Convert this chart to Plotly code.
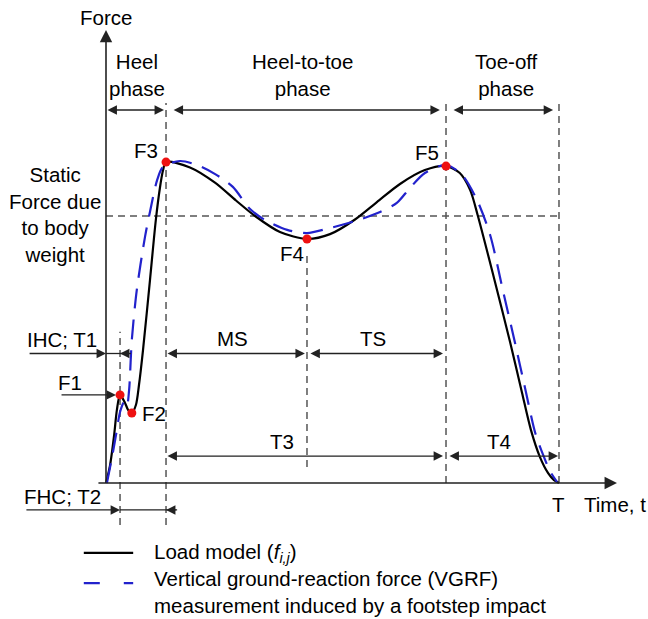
import plotly.graph_objects as go

# Normalised time (step duration T = 1) and force (static body weight = 1)

# Load model f_{i,j}
load_t = [0.000, 0.009, 0.018, 0.024, 0.031, 0.042, 0.049, 0.057, 0.066, 0.0728,
          0.0817, 0.0971, 0.110, 0.119, 0.126, 0.1325, 0.1854, 0.2406, 0.287, 0.329,
          0.384, 0.4437, 0.4945, 0.5497, 0.598, 0.649, 0.704, 0.7506, 0.781, 0.804,
          0.821, 0.8565, 0.892, 0.918, 0.938, 0.958, 0.976, 0.989, 1.000]
load_f = [0.000, 0.067, 0.180, 0.273, 0.330, 0.300, 0.273, 0.262, 0.292, 0.367,
          0.498, 0.760, 0.985, 1.105, 1.172, 1.202, 1.182, 1.125, 1.058, 1.000,
          0.940, 0.914, 0.932, 0.987, 1.052, 1.120, 1.172, 1.187, 1.161, 1.097,
          1.000, 0.768, 0.528, 0.341, 0.199, 0.097, 0.037, 0.011, 0.000]

# Measured vertical ground-reaction force (VGRF)
vgrf_t = [0.002, 0.015, 0.024, 0.031, 0.040, 0.046, 0.051, 0.057, 0.068, 0.086,
          0.097, 0.113, 0.126, 0.163, 0.201, 0.241, 0.280, 0.318, 0.351, 0.400,
          0.4437, 0.4945, 0.550, 0.605, 0.642, 0.671, 0.704, 0.7506, 0.786, 0.819,
          0.848, 0.876, 0.903, 0.927, 0.947, 0.965, 0.980, 0.9956]
vgrf_f = [0.000, 0.112, 0.199, 0.266, 0.303, 0.288, 0.348, 0.536, 0.723, 0.921,
          1.015, 1.135, 1.184, 1.206, 1.191, 1.157, 1.109, 1.026, 0.985, 0.948,
          0.936, 0.955, 0.981, 1.015, 1.049, 1.105, 1.161, 1.191, 1.154, 1.060,
          0.929, 0.723, 0.524, 0.341, 0.191, 0.105, 0.045, 0.004]

# Characteristic points of the load model
key_labels = ["F1", "F2", "F3", "F4", "F5"]
key_t = [0.031, 0.057, 0.1325, 0.4437, 0.7506]
key_f = [0.330, 0.262, 1.202, 0.914, 1.187]

T_END = 1.0
STATIC = 1.0

FONT = "Liberation Sans, Arial, Helvetica, sans-serif"
FS = 20.5
GRAY = "#555555"
INK = "#222222"
BLUE = "#2222cc"

fig = go.Figure()

fig.add_trace(go.Scatter(x=load_t, y=load_f, mode="lines",
                         line=dict(color="black", width=2.2, shape="spline", smoothing=0.8),
                         hoverinfo="skip", showlegend=False))
fig.add_trace(go.Scatter(x=vgrf_t, y=vgrf_f, mode="lines",
                         line=dict(color=BLUE, width=2.2, dash="20px,11px",
                                   shape="spline", smoothing=0.8),
                         hoverinfo="skip", showlegend=False))
fig.add_trace(go.Scatter(x=key_t, y=key_f, mode="markers",
                         marker=dict(color="#ee1111", size=9),
                         hoverinfo="skip", showlegend=False))

shapes = []


def guide(x0, y0, x1, y1):
    shapes.append(dict(type="line", xref="x", yref="y", x0=x0, y0=y0, x1=x1, y1=y1,
                       line=dict(color=GRAY, width=1.5, dash="7px,5px"), layer="below"))


# Phase boundaries and static body-weight level
guide(key_t[0], -0.157, key_t[0], 0.566)
guide(key_t[2], -0.157, key_t[2], 1.423)
guide(key_t[3], 0.060, key_t[3], 0.862)
guide(key_t[4], 0.0, key_t[4], 1.427)
guide(T_END, 0.0, T_END, 1.427)
guide(0.0, STATIC, T_END + 0.003, STATIC)

annotations = []


def arrow(x0, y0, x1, y1, both=False, size=1.45, width=1.3):
    annotations.append(dict(x=x1, y=y1, ax=x0, ay=y0, xref="x", yref="y",
                            axref="x", ayref="y", text="", showarrow=True,
                            arrowhead=2, startarrowhead=2, arrowsize=size,
                            startarrowsize=size, arrowwidth=width, arrowcolor=INK,
                            arrowside="end+start" if both else "end", standoff=0,
                            startstandoff=0))


def segment(x0, y0, x1, y1, width=1.3):
    shapes.append(dict(type="line", xref="x", yref="y", x0=x0, y0=y0, x1=x1, y1=y1,
                       line=dict(color=INK, width=width)))


def label(x, y, text, xanchor="center", size=FS, align="center"):
    annotations.append(dict(x=x, y=y, xref="x", yref="y", text=text, showarrow=False,
                            xanchor=xanchor, yanchor="middle", align=align,
                            font=dict(family=FONT, size=size, color="black")))


# Axes
arrow(0.0, 0.0, 0.0, 1.697, size=1.55, width=1.6)
arrow(-0.020, 0.0, 1.128, 0.0, size=1.55, width=1.6)

# Phase spans
PH = 1.397
arrow(0.0, PH, 0.128, PH, both=True)
arrow(0.146, PH, 0.737, PH, both=True)
arrow(0.764, PH, 0.987, PH, both=True)

# Mid-stance / terminal-stance spans
MSY = 0.485
arrow(key_t[2], MSY, 0.439, MSY, both=True)
arrow(0.448, MSY, 0.744, MSY, both=True)

# Durations T3 and T4
TY = 0.101
arrow(key_t[2], TY, 0.744, TY, both=True)
arrow(0.755, TY, 0.998, TY, both=True)

# IHC; T1
arrow(-0.172, MSY, 0.0, MSY)
segment(0.0, MSY, 0.055, MSY)
arrow(0.055, MSY, key_t[0], MSY)

# F1 pointer
arrow(-0.1015, key_f[0], 0.022, key_f[0])

# FHC; T2
FY = -0.101
arrow(-0.179, FY, key_t[0], FY)
segment(key_t[0], FY, 0.157, FY)
arrow(0.157, FY, key_t[2], FY)

# Text
label(0.0, 1.742, "Force")
label(0.068, 1.528, "Heel<br>phase")
label(0.433, 1.528, "Heel-to-toe<br>phase")
label(0.885, 1.528, "Toe-off<br>phase")
label(-0.113, 1.007, "Static<br>Force due<br>to body<br>weight")
label(0.120, 1.247, key_labels[2], xanchor="right")
label(0.709, 1.236, key_labels[4])
label(0.411, 0.861, key_labels[3])
label(0.075, key_f[1], key_labels[1], xanchor="left")
label(-0.079, 0.375, key_labels[0])
label(-0.097, 0.536, "IHC; T1")
label(-0.095, -0.052, "FHC; T2")
label(0.280, 0.543, "MS")
label(0.589, 0.543, "TS")
label(0.389, 0.154, "T3")
label(0.868, 0.154, "T4")
label(T_END, -0.082, "T")
label(1.050, -0.082, "Time, t", xanchor="left")

# Legend
shapes.append(dict(type="line", xref="x", yref="y", x0=-0.049, y0=-0.262, x1=0.060, y1=-0.262,
                   line=dict(color="black", width=2.2)))
shapes.append(dict(type="line", xref="x", yref="y", x0=-0.049, y0=-0.375, x1=0.060, y1=-0.375,
                   line=dict(color=BLUE, width=2.2, dash="16px,24px")))
label(0.1015, -0.262, "Load model (<i>f</i><sub><i>i,j</i></sub>)", xanchor="left")
label(0.1015, -0.410, "Vertical ground-reaction force (VGRF)<br>"
      "measurement induced by a footstep impact", xanchor="left", align="left")

fig.update_layout(
    width=648, height=619,
    margin=dict(l=0, r=0, t=0, b=0),
    paper_bgcolor="white", plot_bgcolor="white",
    shapes=shapes, annotations=annotations,
    xaxis=dict(visible=False, range=[-0.2340, 1.1965], fixedrange=True),
    yaxis=dict(visible=False, range=[-0.5094, 1.8090], fixedrange=True),
    font=dict(family=FONT, size=FS),
)

fig.write_html("out.html")
